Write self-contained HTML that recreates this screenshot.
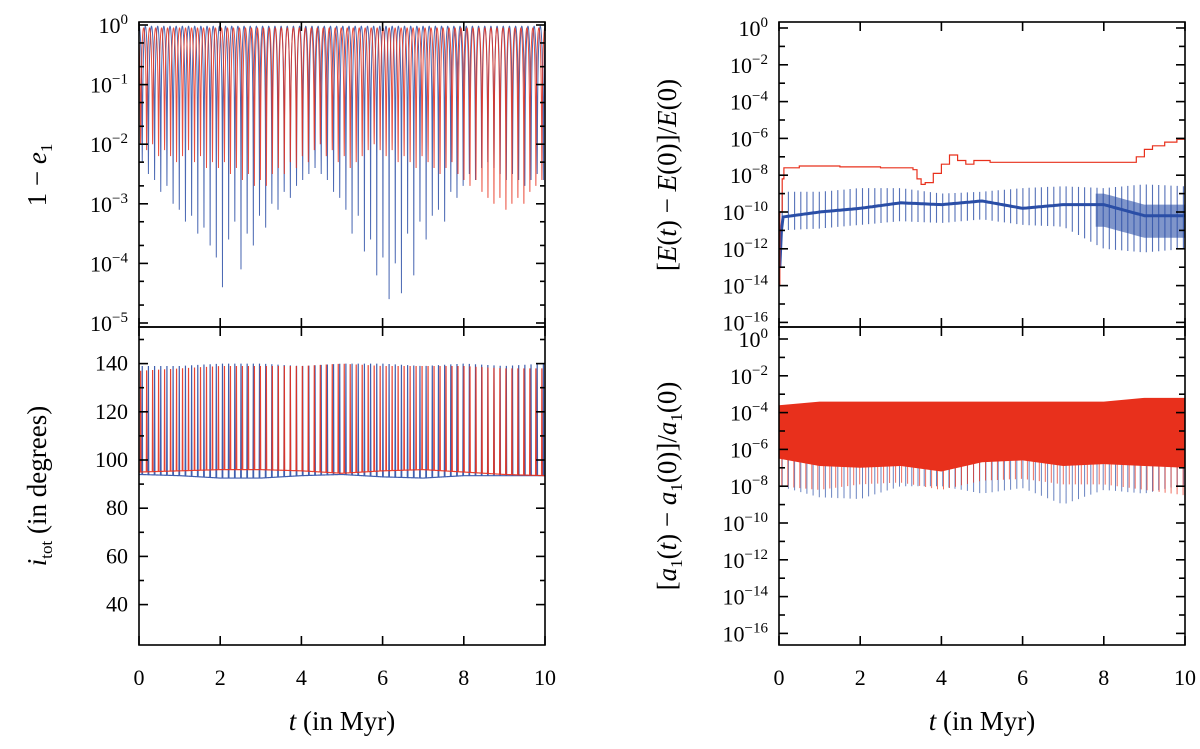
<!DOCTYPE html>
<html><head><meta charset="utf-8"><style>
html,body{margin:0;padding:0;background:#fff;}
svg{display:block;font-family:"Liberation Serif",serif;}
</style></head><body>
<svg id="fig" width="1200" height="749" viewBox="0 0 1200 749" xmlns="http://www.w3.org/2000/svg">
<defs>
<clipPath id="cLT"><rect x="139" y="22" width="406" height="305"/></clipPath>
<clipPath id="cLB"><rect x="139" y="327" width="406" height="318"/></clipPath>
<clipPath id="cRT"><rect x="779" y="22" width="406" height="305"/></clipPath>
<clipPath id="cRB"><rect x="779" y="327" width="406" height="318"/></clipPath>
</defs>
<g id="marks"></g>
<g id="axes"></g>
<text x="46" y="175" font-size="27" text-anchor="middle" transform="rotate(-90 46 175)">1 − <tspan font-style="italic">e</tspan><tspan font-size="17" dy="6">1</tspan></text>
<text x="46" y="486" font-size="27" text-anchor="middle" transform="rotate(-90 46 486)"><tspan font-style="italic">i</tspan><tspan font-size="17" dy="6">tot</tspan><tspan dy="-6"> (in degrees)</tspan></text>
<text x="676" y="175" font-size="27" text-anchor="middle" transform="rotate(-90 676 175)">[<tspan font-style="italic">E</tspan>(<tspan font-style="italic">t</tspan>) − <tspan font-style="italic">E</tspan>(0)]/<tspan font-style="italic">E</tspan>(0)</text>
<text x="676" y="486" font-size="27" text-anchor="middle" transform="rotate(-90 676 486)">[<tspan font-style="italic">a</tspan><tspan font-size="17" dy="6">1</tspan><tspan dy="-6">(</tspan><tspan font-style="italic">t</tspan>) − <tspan font-style="italic">a</tspan><tspan font-size="17" dy="6">1</tspan><tspan dy="-6">(0)]/</tspan><tspan font-style="italic">a</tspan><tspan font-size="17" dy="6">1</tspan><tspan dy="-6">(0)</tspan></text>
<text x="342" y="730" font-size="27" text-anchor="middle"><tspan font-style="italic">t</tspan> (in Myr)</text>
<text x="982" y="730" font-size="27" text-anchor="middle"><tspan font-style="italic">t</tspan> (in Myr)</text>
</svg>
<script>
// ---- data ----
const xTicks = [0,2,4,6,8,10];
const eTickExp = [0,-1,-2,-3,-4,-5];
const incTicks = [40,60,80,100,120,140];
const rTickExp = [0,-2,-4,-6,-8,-10,-12,-14,-16];
const blueMinExp = [-2.3,-2.5,-2.6,-2.8,-2.7,-3.0,-3.1,-3.3,-3.2,-3.5,-3.4,-3.7,-3.9,
 -4.4,-3.6,-3.3,-4.1,-3.5,-3.7,-3.2,-3.4,-3.0,-3.1,-2.8,-2.9,-2.7,
 -2.6,-2.5,-2.4,-2.5,-2.6,-2.8,-2.9,-3.1,-3.5,-3.2,-3.8,-3.6,-4.2,
 -3.9,-4.6,-4.0,-4.5,-3.5,-4.2,-3.3,-3.6,-3.2,-3.1,-3.3,-2.8,-2.9,
 -2.7,-2.5,-2.6,-2.4,-2.3,-2.4,-2.5,-2.6,-2.5,-2.6,-2.7,-2.6,-2.5,-2.6];
const redMinExp = [-2.0,-2.1,-2.0,-2.2,-2.1,-2.2,-2.3,-2.2,-2.1,-2.3,-2.2,-2.4,-2.3,-2.4,-2.3,-2.5,-2.4,-2.6,-2.5,-2.7,-2.6,-2.7,-2.5,-2.4,-2.5,-2.3,-2.4,-2.2,-2.3,-2.1,-2.0,-2.2,-2.1,-2.3,-2.2,-2.4,-2.3,-2.2,-2.1,-2.0,-2.1,-2.2,-2.1,-2.3,-2.2,-2.3,-2.4,-2.2,-2.3,-2.4,-2.5,-2.4,-2.3,-2.5,-2.6,-2.7,-2.6,-2.8,-2.9,-3.0,-2.9,-3.1,-3.0,-2.9,-3.0,-2.8,-2.7,-2.6];
const blueMaxExp = -0.02, redMaxExp = -0.05;
const blueStart = 0.08, bluePeriod = 0.152, redStart = 0.04, redPeriod = 0.1475;
const envT = [0,1,2,3,4,5,6,7,8,9,10];
const blueIncBase = [94,93.5,92.5,92.5,93.5,94,93,92.5,93.5,93.5,93.5];
const redIncBase = [95,95.5,96,96,95.5,94.5,95.5,96,95,94,93.5];
const blueIncPeak = [139,139,140,140,139,140,140,139,140,139,140];
const redIncPeak = [137,138,139,139,139,140,139,139,139,138,138];
const blueEBase = [-10.3,-10.0,-9.8,-9.5,-9.6,-9.4,-9.8,-9.6,-9.6,-10.2,-10.2];
const blueEUp = [-8.9,-8.9,-8.7,-8.7,-9.0,-8.9,-8.7,-8.6,-8.7,-8.5,-8.6];
const blueEDown = [-11.0,-10.9,-10.7,-10.5,-10.6,-10.4,-10.7,-10.8,-12.0,-12.2,-12.0];
const redEStepT = [0,0.02,0.08,0.12,0.5,1.5,2.5,3.3,3.4,3.5,3.6,3.8,4.0,4.2,4.4,4.6,4.8,5.2,8.6,8.8,9.0,9.2,9.5,9.8,10];
const redEStepV = [-14,-10,-8.2,-7.6,-7.5,-7.55,-7.6,-7.7,-8.2,-8.5,-8.4,-7.9,-7.4,-6.9,-7.2,-7.4,-7.2,-7.3,-7.3,-7.0,-6.6,-6.4,-6.2,-6.05,-6.1];
const aBandT = [0,1,2,3,4,5,6,7,8,9,10];
const aRedTop = [-3.6,-3.4,-3.4,-3.4,-3.4,-3.4,-3.4,-3.4,-3.4,-3.2,-3.2];
const aRedBot = [-6.5,-6.9,-7.0,-6.9,-7.2,-6.7,-6.6,-6.9,-6.8,-6.9,-7.0];
const aRedSpike = [-8.0,-8.2,-7.9,-7.8,-8.2,-7.7,-7.6,-7.9,-7.9,-8.2,-8.5];
const aBlueSpike = [-8.0,-8.6,-8.7,-8.0,-8.0,-8.4,-8.1,-9.0,-8.2,-8.4,-7.9];

// ---- scales ----
const XL = t => 139 + t*40.6, XR = t => 779 + t*40.6;
const YLT = e => 25 - e*59.6;
const YLB = i => 460 - (i-100)*2.41;
const YRT = e => 28 - e*18.4;
const YRB = e => 339 - e*18.4;
const NS = 'http://www.w3.org/2000/svg';
const marks = document.getElementById('marks'), axes = document.getElementById('axes');
function mk(tag, attrs, parent){const el=document.createElementNS(NS,tag);for(const k in attrs)el.setAttribute(k,attrs[k]);parent.appendChild(el);return el;}
function interp(T,V,t){if(t<=T[0])return V[0];for(let i=1;i<T.length;i++){if(t<=T[i]){const f=(t-T[i-1])/(T[i]-T[i-1]);return V[i-1]+f*(V[i]-V[i-1]);}}return V[V.length-1];}
const BLUE='#2a4ea6', RED='#e8301c';

function addGroup(clip,name){const g=mk('g',{'clip-path':'url(#'+clip+')'},marks);return g;}

// ---- eccentricity panel ----
function eCurve(start,P,minArr,maxExp,color,name,g){
  let d='';const M=Math.pow(10,maxExp);
  minArr.forEach((me,k)=>{const tk=start+k*P;const m=Math.pow(10,me);
    for(let s=-20;s<=20;s++){const ph=Math.PI*s/40;const t=tk+P*s/40;
      const v=m+(M-m)*Math.sin(ph)**2;const x=XL(t),y=YLT(Math.log10(v));
      d+=(d?'L':'M')+x.toFixed(2)+' '+y.toFixed(2);}});
  const p=mk('path',{d:d,fill:'none',stroke:color,'stroke-width':1,'stroke-opacity':0.85},g);
  
}
const gLT=addGroup('cLT','eccentricity-plot');
eCurve(blueStart,bluePeriod,blueMinExp,blueMaxExp,BLUE,'eccentricity-line-blue',gLT);
eCurve(redStart,redPeriod,redMinExp,redMaxExp,RED,'eccentricity-line-red',gLT);

// ---- inclination panel ----
function iCurve(start,P,n,baseArr,peakArr,color,name,g){
  let d='';
  for(let k=0;k<n;k++){const tk=start+k*P;
    for(let s=-20;s<=20;s++){const ph=Math.PI*s/40;const t=tk+P*s/40;
      const b=interp(envT,baseArr,t),pk=interp(envT,peakArr,tk);
      const f=Math.max(0,1-Math.sin(ph)**2/0.012);
      const v=b+(pk-b)*f;d+=(d?'L':'M')+XL(t).toFixed(2)+' '+YLB(v).toFixed(2);}}
  const p=mk('path',{d:d,fill:'none',stroke:color,'stroke-width':1.2,'stroke-opacity':0.9},g);
  
}
const gLB=addGroup('cLB','inclination-plot');
iCurve(blueStart,bluePeriod,blueMinExp.length,blueIncBase,blueIncPeak,BLUE,'inclination-line-blue',gLB);
iCurve(redStart,redPeriod,redMinExp.length,redIncBase,redIncPeak,RED,'inclination-line-red',gLB);

// ---- energy panel ----
const gRT=addGroup('cRT','energy-plot');
(function(){
  const bandPts=[];for(let t=7.8;t<=10.001;t+=0.05)bandPts.push(t);
  let d='';bandPts.forEach((t,i)=>{d+=(i?'L':'M')+XR(t).toFixed(1)+' '+YRT(interp(envT,blueEBase,t)+0.6).toFixed(1);});
  for(let i=bandPts.length-1;i>=0;i--){const t=bandPts[i];d+='L'+XR(t).toFixed(1)+' '+YRT(interp(envT,blueEBase,t)-1.2).toFixed(1);}
  const band=mk('path',{d:d+'Z',fill:BLUE,'fill-opacity':0.6},gRT);
  
  let bd='';for(let t=0.1;t<=10.001;t+=0.05){bd+=(bd?'L':'M')+XR(t).toFixed(1)+' '+YRT(interp(envT,blueEBase,t)).toFixed(1);}
  bd='M'+XR(0.02)+' '+YRT(-13)+'L'+XR(0.06)+' '+YRT(-11)+bd.replace('M','L');
  const bl=mk('path',{d:bd,fill:'none',stroke:BLUE,'stroke-width':3},gRT);
  
  let sd='';
  blueMinExp.forEach((me,k)=>{const t=blueStart+k*bluePeriod;
    const u=interp(envT,blueEUp,t),w=interp(envT,blueEDown,t);
    sd+='M'+XR(t).toFixed(1)+' '+YRT(u).toFixed(1)+'L'+XR(t).toFixed(1)+' '+YRT(w).toFixed(1);});
  const sp=mk('path',{d:sd,fill:'none',stroke:BLUE,'stroke-width':1.1,'stroke-opacity':0.8},gRT);
  
  let rd='';
  redEStepT.forEach((t,i)=>{const x=XR(t),y=YRT(redEStepV[i]);
    if(i===0)rd='M'+x+' '+y;else rd+='L'+x.toFixed(1)+' '+YRT(redEStepV[i-1]).toFixed(1)+'L'+x.toFixed(1)+' '+y.toFixed(1);});
  const rl=mk('path',{d:rd,fill:'none',stroke:RED,'stroke-width':1.2},gRT);
  
})();

// ---- semimajor axis panel ----
const gRB=addGroup('cRB','semimajor-plot');
(function(){
  function band(top,bot,color,op,name,offTop,offBot){
    let d='';aBandT.forEach((t,i)=>{d+=(i?'L':'M')+XR(t).toFixed(1)+' '+YRB(top[i]+offTop).toFixed(1);});
    for(let i=aBandT.length-1;i>=0;i--)d+='L'+XR(aBandT[i]).toFixed(1)+' '+YRB(bot[i]+offBot).toFixed(1);
    const p=mk('path',{d:d+'Z',fill:color,'fill-opacity':op},gRB);
    }
  function spikes(arr,color,name,start,P,n,sw,op){
    let d='';for(let k=0;k<n;k++){const t=start+k*P;const y0=YRB(-5.5);const y1=YRB(interp(aBandT,arr,t));
      d+='M'+XR(t).toFixed(1)+' '+y0.toFixed(1)+'L'+XR(t).toFixed(1)+' '+y1.toFixed(1);}
    const p=mk('path',{d:d,fill:'none',stroke:color,'stroke-width':sw,'stroke-opacity':op},gRB);
    }
  spikes(aBlueSpike,BLUE,'semimajor-spikes-blue',blueStart,bluePeriod,66,1,0.7);
  spikes(aRedSpike,RED,'semimajor-spikes-red',redStart+0.03,redPeriod,68,1,0.7);
  band(aRedTop,aRedBot,RED,1,'semimajor-band-red',0,0);
})();

// ---- axes ----
function frame(x0,y0,w,h,name){const r=mk('rect',{x:x0,y:y0,width:w,height:h,fill:'none',stroke:'#000','stroke-width':1.6},axes);}
function tick(x1,y1,x2,y2){mk('line',{x1,y1,x2,y2,stroke:'#000','stroke-width':1.6},axes);}
function label(x,y,txt,anchor,name,sup){const t=mk('text',{x,y,'font-size':22,'text-anchor':anchor},axes);
  if(sup!==undefined){t.textContent='10';const s=mk('tspan',{'font-size':15,dy:-9},t);s.textContent=sup;}else t.textContent=txt;
  }
[['L',XL,139],['R',XR,779]].forEach(([side,X,x0])=>{
  frame(x0,22,406,305,'panel-top-'+side.toLowerCase()+'-frame');
  frame(x0,327,406,318,'panel-bottom-'+side.toLowerCase()+'-frame');
  xTicks.forEach(t=>{const x=X(t);[22,327].forEach(y=>{tick(x,y,x,y+9);});[327,645].forEach(y=>tick(x,y,x,y-9));
    label(x,685,String(t),'middle','x-tick-label-'+side.toLowerCase()+'-'+t);});
});
eTickExp.forEach(e=>{const y=YLT(e);tick(139,y,148,y);tick(545,y,536,y);label(128,y+8,'', 'end','y-tick-ecc-'+e,(e===0?'0':'−'+(-e)));
  if(e>-5)[Math.log10(0.5),Math.log10(0.2)].forEach(f=>{const yy=YLT(e+f);tick(139,yy,144,yy);tick(545,yy,540,yy);});});
incTicks.forEach(v=>{const y=YLB(v);tick(139,y,148,y);tick(545,y,536,y);label(128,y+7,String(v),'end','y-tick-inc-'+v);
  const y2=YLB(v+10);tick(139,y2,144,y2);tick(545,y2,540,y2);});
for(let e=0;e>=-16;e--){const y1=YRT(e),y2=YRB(e);const maj=(e%2===0);const L=maj?9:6;
  [y1,y2].forEach(y=>{tick(779,y,779+L,y);tick(1185,y,1185-L,y);});}
rTickExp.forEach(e=>{const s=(e===0?'0':'−'+(-e));label(768,YRT(e)+8,'','end','y-tick-energy-'+e,s);label(768,YRB(e)+8,'','end','y-tick-semimajor-'+e,s);});
</script>
</body></html>
